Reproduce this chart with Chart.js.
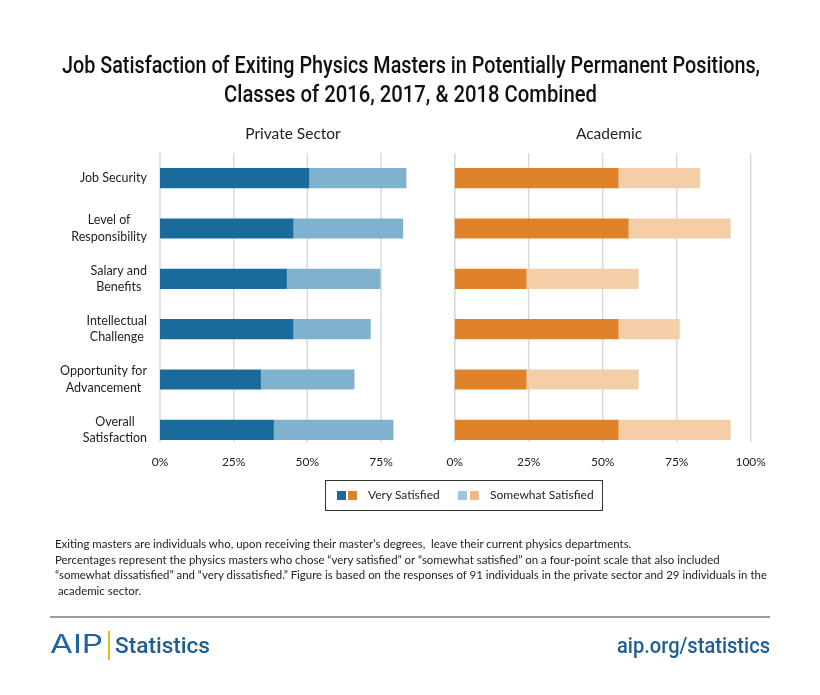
<!DOCTYPE html>
<html>
<head>
<meta charset="utf-8">
<script src="https://cdn.jsdelivr.net/npm/chart.js@4.4.1/dist/chart.umd.min.js"></script>
<style>
  body { margin: 0; background: #fff; }
  #wrap { position: relative; width: 820px; height: 695px; overflow: hidden; font-family: Lato, "Open Sans", sans-serif; color: #222; }
  canvas { position: absolute; left: 0; top: 0; }
  .fit { position: absolute; white-space: nowrap; transform-origin: 0 0; }
  .title { font-family: Roboto, sans-serif; font-weight: 500; font-size: 23px; line-height: 28px; color: #111; }
  .sub { position: absolute; top: 124px; font-size: 15.5px; transform: translateX(-50%); white-space: nowrap; color: #222; }
  .legend { position: absolute; left: 325px; top: 480px; width: 276px; height: 29px; border: 1.5px solid #333; font-size: 12px; }
  .sw { position: absolute; top: 10px; width: 9px; height: 9px; }
  .lt { position: absolute; top: 6px; white-space: nowrap; }
  .note { position: absolute; left: 55px; top: 536px; font-size: 11.45px; line-height: 15.5px; color: #222; white-space: nowrap; }
  .rule { position: absolute; left: 50px; top: 616px; width: 720px; height: 2px; background: #9a9a9a; }
  .aip { font-family: Inter, sans-serif; font-weight: 400; font-size: 25px; line-height: normal; color: #1f63a0; }
  .bar { position: absolute; left: 108px; top: 631px; width: 2px; height: 29px; background: #f0b429; }
  .foot { font-family: Roboto, sans-serif; font-weight: 500; font-size: 22px; line-height: normal; color: #1f5e95; }
</style>
</head>
<body>
<div id="wrap">
  <canvas id="privateChart" width="820" height="695"></canvas>
  <canvas id="academicChart" width="820" height="695"></canvas>
  <div class="fit title" data-left="62" data-w="698" style="top:52px">Job Satisfaction of Exiting Physics Masters in Potentially Permanent Positions,</div>
  <div class="fit title" data-left="224" data-w="373" style="top:81px">Classes of 2016, 2017, &amp; 2018 Combined</div>
  <div class="sub" style="left:293px">Private Sector</div>
  <div class="sub" style="left:609px">Academic</div>
  <div class="legend">
    <div class="sw" style="left:11px;background:#1a6a9c"></div>
    <div class="sw" style="left:22px;background:#e0822a"></div>
    <div class="lt" style="left:42px">Very Satisfied</div>
    <div class="sw" style="left:132px;background:#9cc5de"></div>
    <div class="sw" style="left:144px;background:#f2b787"></div>
    <div class="lt" style="left:164px">Somewhat Satisfied</div>
  </div>
  <div class="note">Exiting masters are individuals who, upon receiving their master’s degrees,&nbsp; leave their current physics departments.<br>Percentages represent the physics masters who chose “very satisfied” or “somewhat satisfied” on a four-point scale that also included<br>“somewhat dissatisfied” and “very dissatisfied.” Figure is based on the responses of 91 individuals in the private sector and 29 individuals in the<br>&nbsp;academic sector.</div>
  <div class="rule"></div>
  <div class="fit aip" data-left="50" data-w="53" style="top:629px">AIP</div>
  <div class="bar"></div>
  <div class="fit foot" data-left="115" data-w="95" style="top:632.5px">Statistics</div>
  <div class="fit foot" data-left="617" data-w="153" style="top:632.5px">aip.org/statistics</div>
</div>
<script>
const categories = [
  ["Job Security"],
  ["Level of", "Responsibility"],
  ["Salary and", "Benefits"],
  ["Intellectual", "Challenge"],
  ["Opportunity for", "Advancement"],
  ["Overall", "Satisfaction"]
];
const seriesNames = ["Very Satisfied", "Somewhat Satisfied"];
const privateVery = [50.5, 45.1, 42.9, 45.1, 34.1, 38.5];
const privateSomewhat = [33.0, 37.3, 31.8, 26.3, 31.8, 40.6];
const academicVery = [55.2, 58.6, 24.1, 55.2, 24.1, 55.2];
const academicSomewhat = [27.6, 34.5, 37.9, 20.7, 37.9, 37.9];
const xTicks = [0, 25, 50, 75, 100];

// squeeze text blocks horizontally to act as a condensed face
document.querySelectorAll(".fit").forEach((el) => {
  const w = el.getBoundingClientRect().width;
  el.style.left = el.dataset.left + "px";
  el.style.transform = "scaleX(" + (+el.dataset.w / w) + ")";
});

// vertical grid lines, stopping a little above the bottom like the original
const gridPlugin = {
  id: "grid",
  beforeDatasetsDraw(chart) {
    const { ctx, chartArea, scales } = chart;
    ctx.save();
    ctx.strokeStyle = "#d9d9d9";
    ctx.lineWidth = 1.5;
    xTicks.forEach((t) => {
      const x = scales.x.getPixelForValue(t);
      ctx.beginPath();
      ctx.moveTo(x, chartArea.top);
      ctx.lineTo(x, chartArea.bottom - 13);
      ctx.stroke();
    });
    ctx.restore();
  }
};

// category labels: each label's lines centered, widest line ending at a fixed edge
const labelPlugin = {
  id: "catLabels",
  afterDraw(chart) {
    if (!chart.options.plugins.catLabels.show) return;
    const { ctx, scales } = chart;
    const right = scales.x.getPixelForValue(0) - 13;
    ctx.save();
    ctx.font = "12.5px Lato, 'Open Sans', sans-serif";
    ctx.fillStyle = "#222";
    ctx.textAlign = "center";
    ctx.textBaseline = "middle";
    categories.forEach((lines, i) => {
      const y = scales.y.getPixelForValue(i);
      const w = Math.max(...lines.map((l) => ctx.measureText(l).width));
      const cx = right - w / 2;
      lines.forEach((l, j) => {
        ctx.fillText(l, cx, y + (j - (lines.length - 1) / 2) * 16.5);
      });
    });
    ctx.restore();
  }
};

const makeChart = (id, very, somewhat, colors, padLeft, padRight, showLabels, hideLast) => {
  const ctx = document.getElementById(id);
  return new Chart(ctx, {
    type: "bar",
    data: {
      labels: categories.map((c) => c.join(" ")),
      datasets: [
        { label: seriesNames[0], data: very, backgroundColor: colors[0], barThickness: 19.5 },
        { label: seriesNames[1], data: somewhat, backgroundColor: colors[1], barThickness: 19.5 }
      ]
    },
    options: {
      responsive: false,
      animation: false,
      indexAxis: "y",
      layout: { padding: { left: padLeft, right: padRight, top: 153, bottom: 225.6 } },
      plugins: {
        legend: { display: false },
        tooltip: { enabled: false },
        catLabels: { show: showLabels }
      },
      scales: {
        x: {
          stacked: true,
          min: 0,
          max: 100,
          afterBuildTicks: (axis) => { axis.ticks = xTicks.map((v) => ({ value: v })); },
          ticks: {
            padding: 0,
            color: "#222",
            font: { family: "Lato, 'Open Sans', sans-serif", size: 12 },
            callback: (v) => (hideLast && v === 100 ? "" : v + "%")
          },
          grid: { display: false, drawTicks: false },
          border: { display: false }
        },
        y: { stacked: true, display: false }
      }
    },
    plugins: [gridPlugin, labelPlugin]
  });
};

makeChart("privateChart", privateVery, privateSomewhat, ["#1a6a9c", "#80b2ce"], 160, 365.3, true, true);
makeChart("academicChart", academicVery, academicSomewhat, ["#e0822a", "#f4cea6"], 454.7, 69.3, false, false);
</script>
</body>
</html>
